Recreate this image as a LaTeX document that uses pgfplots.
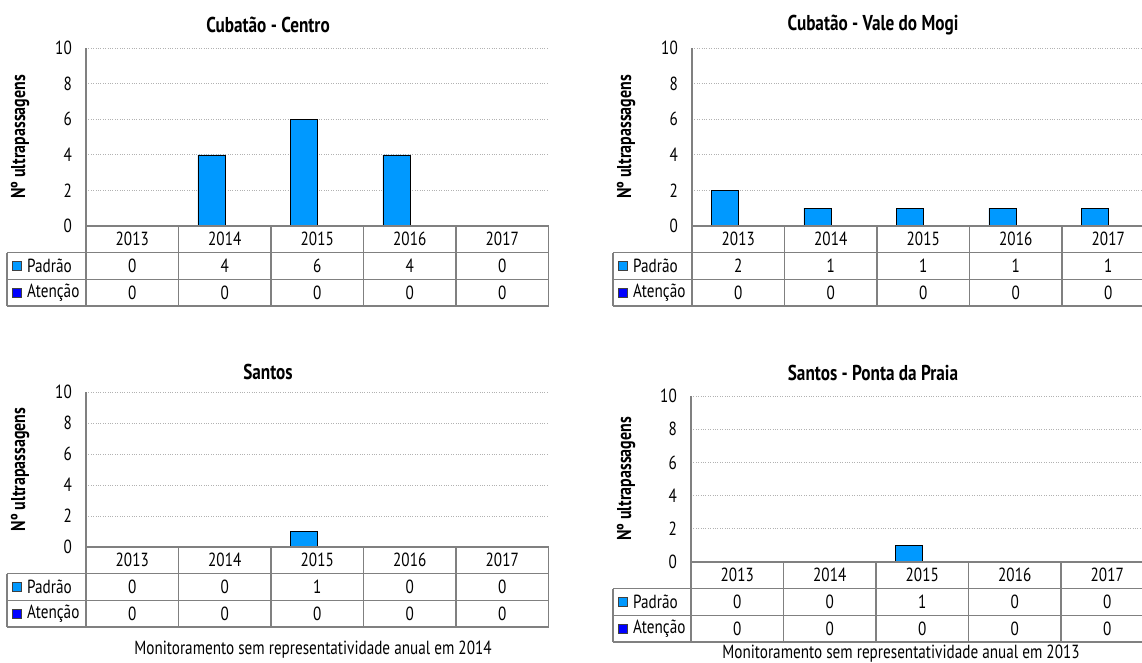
\documentclass[border=0pt]{standalone}
\usepackage{fontspec}
\setmainfont{PT Sans}[FakeStretch=0.8]
\usepackage{pgfplots}
\pgfplotsset{compat=1.18}
\definecolor{padrao}{RGB}{0,153,255}
\definecolor{atencao}{RGB}{0,0,255}
\definecolor{tgray}{RGB}{128,128,128}
\newcommand\tf{\fontsize{19}{22}\selectfont}
\newcommand\titf{\fontsize{21.5}{24}\selectfont\bfseries}
\newcommand\ylf{\fontsize{20}{23}\selectfont\bfseries}

\pgfplotsset{panel/.style={
  scale only axis, anchor=south west,
  width=462.5pt,
  xmin=-0.5, xmax=4.5, ymin=0, ymax=10,
  ytick={0,2,4,6,8,10}, xtick=\empty,
  axis x line=none, axis y line*=left,
  y axis line style={-, draw=tgray, line width=2pt},
  major tick length=0pt,
  ymajorgrids, major grid style={dotted, draw=gray!60, line width=0.7pt},
  /pgf/number format/assume math mode=true,
  yticklabel style={font=\tf, anchor=east, inner sep=0pt, xshift=-14pt},
  clip=false,
  ybar, bar width=27pt,
}}

\newcommand{\drawtable}[5]{%
\begin{scope}[x=1pt,y=-1pt]
  \draw[tgray, line width=1.5pt] (#2,#3) -- (#2+462.5,#3);
  \draw[tgray, line width=1.5pt] (#1,#3+26.5) -- (#2+462.5,#3+26.5);
  \draw[tgray, line width=1.5pt] (#1,#3+53.5) -- (#2+462.5,#3+53.5);
  \draw[tgray, line width=1.5pt] (#1,#3+80) -- (#2+462.5,#3+80);
  \draw[tgray, line width=1.5pt] (#1,#3+26.5) -- (#1,#3+80);
  \foreach \k in {0,...,5}{\draw[tgray, line width=1.5pt] (#2+\k*92.5,#3) -- (#2+\k*92.5,#3+80);}
  \foreach \yr [count=\k from 0] in {2013,2014,2015,2016,2017}{\node[font=\tf] at (#2+\k*92.5+46.25,#3+13.25) {\yr};}
  \foreach \v [count=\k from 0] in {#4}{\node[font=\tf] at (#2+\k*92.5+46.25,#3+40) {\v};}
  \foreach \v [count=\k from 0] in {#5}{\node[font=\tf] at (#2+\k*92.5+46.25,#3+66.75) {\v};}
  \node[draw=black!75, fill=padrao, minimum size=8.5pt, inner sep=0pt, line width=0.8pt] at (#1+10,#3+40) {};
  \node[anchor=west, font=\tf, inner sep=0pt] at (#1+20,#3+40) {Padrão};
  \node[draw=black!75, fill=atencao, minimum size=8.5pt, inner sep=0pt, line width=0.8pt] at (#1+10,#3+66.75) {};
  \node[anchor=west, font=\tf, inner sep=0pt] at (#1+20,#3+66.75) {Atenção};
\end{scope}}

\begin{document}
\begin{tikzpicture}
\useasboundingbox (0,0) rectangle (1142pt,-663pt);

% ---------- Panel 1 ----------
\begin{axis}[panel, at={(86pt,-226pt)}, height=178pt]
\addplot[fill=padrao, draw=black, bar shift=-13.5pt] coordinates {(0,0) (1,4) (2,6) (3,4) (4,0)};
\addplot[fill=atencao, draw=black, bar shift=13.5pt] coordinates {(0,0) (1,0) (2,0) (3,0) (4,0)};
\end{axis}
\drawtable{7}{86}{226}{0,4,6,4,0}{0,0,0,0,0}
\begin{scope}[x=1pt,y=-1pt]
\node[font=\titf] at (268,25) {Cubatão - Centro};
\node[font=\ylf, rotate=90] at (20,137) {Nº ultrapassagens};
\end{scope}

% ---------- Panel 2 ----------
\begin{axis}[panel, at={(692pt,-226pt)}, height=178pt]
\addplot[fill=padrao, draw=black, bar shift=-13.5pt] coordinates {(0,2) (1,1) (2,1) (3,1) (4,1)};
\addplot[fill=atencao, draw=black, bar shift=13.5pt] coordinates {(0,0) (1,0) (2,0) (3,0) (4,0)};
\end{axis}
\drawtable{613}{692}{226}{2,1,1,1,1}{0,0,0,0,0}
\begin{scope}[x=1pt,y=-1pt]
\node[font=\titf] at (873,25) {Cubatão - Vale do Mogi};
\node[font=\ylf, rotate=90] at (626,137) {Nº ultrapassagens};
\end{scope}

% ---------- Panel 3 ----------
\begin{axis}[panel, at={(86pt,-547pt)}, height=155pt]
\addplot[fill=padrao, draw=black, bar shift=-13.5pt] coordinates {(0,0) (1,0) (2,1) (3,0) (4,0)};
\addplot[fill=atencao, draw=black, bar shift=13.5pt] coordinates {(0,0) (1,0) (2,0) (3,0) (4,0)};
\end{axis}
\drawtable{7}{86}{547}{0,0,1,0,0}{0,0,0,0,0}
\begin{scope}[x=1pt,y=-1pt]
\node[font=\titf] at (268,372) {Santos};
\node[font=\ylf, rotate=90] at (20,469.5) {Nº ultrapassagens};
\node[font=\tf] at (313,650) {Monitoramento sem representatividade anual em 2014};
\end{scope}

% ---------- Panel 4 ----------
\begin{axis}[panel, at={(691pt,-562pt)}, height=166pt]
\addplot[fill=padrao, draw=black, bar shift=-13.5pt] coordinates {(0,0) (1,0) (2,1) (3,0) (4,0)};
\addplot[fill=atencao, draw=black, bar shift=13.5pt] coordinates {(0,0) (1,0) (2,0) (3,0) (4,0)};
\end{axis}
\drawtable{613}{691}{562}{0,0,1,0,0}{0,0,0,0,0}
\begin{scope}[x=1pt,y=-1pt]
\node[font=\titf] at (873,373) {Santos - Ponta da Praia};
\node[font=\ylf, rotate=90] at (626,479) {Nº ultrapassagens};
\node[font=\tf] at (901,654) {Monitoramento sem representatividade anual em 2013};
\end{scope}
\end{tikzpicture}
\end{document}
